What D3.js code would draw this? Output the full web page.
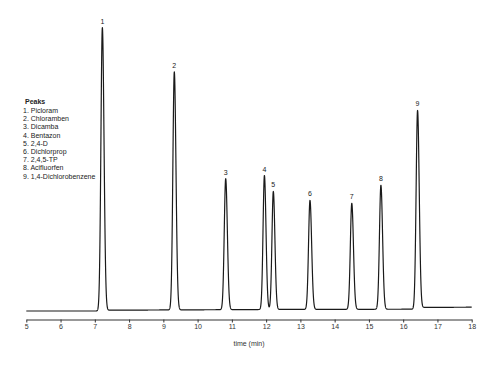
<!DOCTYPE html>
<html>
<head>
	<meta charset="utf-8">
	<script src="https://cdn.jsdelivr.net/npm/d3@7/dist/d3.min.js"></script>
	<style>
		body { margin: 0; background: #fff; }
		svg { font-family: "Liberation Sans", Arial, sans-serif; }
	</style>
</head>
<body>
	<script>
		// peak table
		var peakNumbers = [1, 2, 3, 4, 5, 6, 7, 8, 9];
		var peakNames = ['Picloram', 'Chloramben', 'Dicamba', 'Bentazon', '2,4-D',
			'Dichlorprop', '2,4,5-TP', 'Acifluorfen', '1,4-Dichlorobenzene'];
		var peakTimes = [7.22, 9.32, 10.82, 11.95, 12.21, 13.28, 14.50, 15.35, 16.42];
		var peakHeights = [28.3, 23.8, 13.1, 13.4, 11.8, 10.9, 10.6, 12.4, 19.8];
		var peakWidths = [0.042, 0.042, 0.042, 0.040, 0.040, 0.042, 0.042, 0.042, 0.042];

		// baseline drift (time, signal)
		var baseTimes = [5, 7.1, 7.4, 12, 16.3, 16.6, 18];
		var baseValues = [0, 0, 0.08, 0.15, 0.18, 0.36, 0.38];

		var xTicks = d3.range(5, 19);

		var width = 500, height = 366;
		var margin = {left: 26.3, right: 28.3, top: 11, bottom: 55};

		var svg = d3.select('body').append('svg')
			.attr('width', width)
			.attr('height', height);

		var x = d3.scaleLinear()
			.domain([5, 18])
			.range([margin.left, width - margin.right]);

		var y = d3.scaleLinear()
			.domain([0, 30])
			.range([height - margin.bottom, margin.top]);

		var baseline = d3.scaleLinear().domain(baseTimes).range(baseValues);

		function signal(t) {
			var s = baseline(t);
			for (var i = 0; i < peakTimes.length; i++) {
				var d = t - peakTimes[i];
				var w = d > 0 ? peakWidths[i] * 1.15 : peakWidths[i];
				s += peakHeights[i] * Math.exp(-d * d / (2 * w * w));
			}
			return s;
		}

		var trace = d3.range(5, 18.0001, 0.002).map(function (t) {
			return [t, signal(t)];
		});

		svg.append('path')
			.datum(trace)
			.attr('fill', 'none')
			.attr('stroke', '#1a1a1a')
			.attr('stroke-width', 1.2)
			.attr('stroke-linejoin', 'round')
			.attr('d', d3.line()
				.x(function (d) { return x(d[0]); })
				.y(function (d) { return y(d[1]); }));

		// peak numbers above each top
		svg.selectAll('.peak-label')
			.data(peakNumbers)
			.enter().append('text')
			.attr('class', 'peak-label')
			.attr('x', function (d, i) { return x(peakTimes[i]); })
			.attr('y', function (d, i) { return y(signal(peakTimes[i])) - 4; })
			.attr('text-anchor', 'middle')
			.attr('font-size', 7)
			.attr('fill', '#222')
			.text(function (d) { return d; });

		// x axis
		var axis = svg.append('g')
			.attr('transform', 'translate(0,' + 319.5 + ')')
			.call(d3.axisBottom(x)
				.tickValues(xTicks)
				.tickSize(3)
				.tickSizeOuter(0)
				.tickPadding(2));

		axis.select('.domain').attr('stroke', '#333');
		axis.selectAll('.tick line').attr('stroke', '#333');
		axis.selectAll('.tick text')
			.attr('font-size', 7)
			.attr('font-family', '"Liberation Sans", Arial, sans-serif')
			.attr('fill', '#333');

		svg.append('text')
			.attr('x', x(11.5))
			.attr('y', 345.5)
			.attr('text-anchor', 'middle')
			.attr('font-size', 7)
			.attr('fill', '#333')
			.text('time (min)');

		// legend
		var legend = svg.append('g').attr('transform', 'translate(23,0)');

		legend.append('text')
			.attr('x', 2)
			.attr('y', 104)
			.attr('font-size', 7)
			.attr('font-weight', 'bold')
			.attr('fill', '#222')
			.text('Peaks');

		legend.selectAll('.item')
			.data(peakNames)
			.enter().append('text')
			.attr('class', 'item')
			.attr('x', 0)
			.attr('y', function (d, i) { return 113 + i * 8.2; })
			.attr('font-size', 7)
			.attr('fill', '#222')
			.text(function (d, i) { return peakNumbers[i] + '. ' + d; });
	</script>
</body>
</html>
